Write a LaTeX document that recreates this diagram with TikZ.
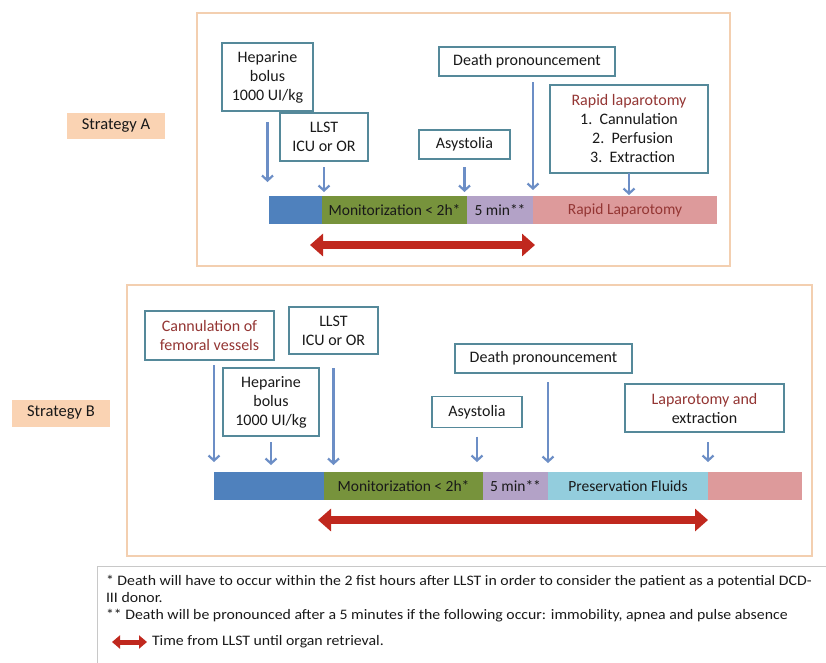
\documentclass[tikz,border=0pt]{standalone}
\usepackage{fontspec}
\setmainfont{Carlito}
\newfontfamily\notefont{Carlito}[FakeStretch=1.09]
\usepackage{tikz}
\usetikzlibrary{positioning, arrows.meta}

\definecolor{boxline}{HTML}{55899A}
\definecolor{frameline}{HTML}{F3CFB0}
\definecolor{tagfill}{HTML}{FAD3B3}
\definecolor{barblue}{HTML}{4F81BD}
\definecolor{bargreen}{HTML}{77933C}
\definecolor{barpurple}{HTML}{B3A2C7}
\definecolor{barpink}{HTML}{DD9A9B}
\definecolor{barfluid}{HTML}{93CDDD}
\definecolor{pinblue}{HTML}{6C8EC6}
\definecolor{spanred}{HTML}{C0281E}
\definecolor{darkred}{HTML}{943634}
\definecolor{notegray}{HTML}{C8C8C8}

\begin{document}
\begin{tikzpicture}[x=1pt, y=-1pt,
    every node/.style={inner sep=2pt, outer sep=0pt, text=black!90, font=\fontsize{16}{19}\selectfont},
    box/.style={draw=boxline, line width=1.1pt, fill=white, align=center},
    seg/.style={minimum height=28pt, anchor=west, font=\fontsize{15.5}{18}\selectfont},
    tag/.style={fill=tagfill, minimum width=98pt, minimum height=26pt, font=\fontsize{16.5}{18}\selectfont},
    pin/.style={draw=pinblue, line width=2.2pt, shorten <=6pt, shorten >=4pt, -{Straight Barb[length=5pt, width=11pt]}},
    span/.style={draw=spanred, line width=8pt, {Triangle[length=13pt, width=22pt]}-{Triangle[length=13pt, width=22pt]}},
    note/.style={align=left, font=\notefont\fontsize{14.5}{17}\selectfont}]
    \useasboundingbox (0,0) rectangle (826,662);

    % Frames
    \draw[frameline, line width=2pt, fill=white] (197,13) rectangle (730,266);
    \draw[frameline, line width=2pt, fill=white] (127,285) rectangle (812,556);
    \draw[notegray, line width=1pt] (840,566) -- (97,566) -- (97,680);

    % Strategy A
    \node[tag] (tagA) at (116,126) {Strategy A};

    \node[seg, fill=barblue, minimum width=53pt] (blueA) at (269,210) {};
    \node[seg, fill=bargreen, minimum width=145pt, right=0pt of blueA] (greenA) {Monitorization < 2h*};
    \node[seg, fill=barpurple, minimum width=66pt, right=0pt of greenA] (purpleA) {5 min**};
    \node[seg, fill=barpink, minimum width=184pt, right=0pt of purpleA, text=darkred] (pinkA) {Rapid Laparotomy};

    \node[box, minimum width=91pt, minimum height=68pt] (hepA) at (267.5,77) {Heparine\\bolus\\1000 UI/kg};
    \node[box, minimum width=88pt, minimum height=48pt] (llstA) at (324,137) {LLST\\ICU or OR};
    \node[box, minimum width=91pt, minimum height=29pt] (asysA) at (464.5,144.5) {Asystolia};
    \node[box, minimum width=176pt, minimum height=29pt] (deathA) at (527,61.5) {Death pronouncement};
    \node[box, minimum width=158pt, minimum height=88pt] (rapidA) at (629,129)
        {\textcolor{darkred}{Rapid laparotomy}\\1.\ \ Cannulation\\\ \ 2.\ \ Perfusion\\\ \ 3.\ \ Extraction};

    \draw[pin, shorten <=11pt, shorten >=14pt] (hepA.south) -- (hepA.south |- blueA.north);
    \draw[pin] (llstA.south) -- (llstA.south |- greenA.north);
    \draw[pin, shorten <=8pt] (asysA.south) -- (asysA.south |- greenA.north);
    \draw[pin, shorten >=6pt] (deathA.south -| pinkA.west) -- (pinkA.north west);
    \draw[pin, shorten <=0pt, shorten >=1pt] (rapidA.south) -- (rapidA.south |- pinkA.north);

    \coordinate (spanAl) at (310,245);
    \coordinate (spanAr) at (535,245);
    \draw[span] (spanAl) -- (spanAr);

    % Strategy B
    \node[tag, minimum height=27pt] (tagB) at (61,413) {Strategy B};

    \node[seg, fill=barblue, minimum width=110pt] (blueB) at (214,486) {};
    \node[seg, fill=bargreen, minimum width=159pt, right=0pt of blueB] (greenB) {Monitorization < 2h*};
    \node[seg, fill=barpurple, minimum width=65pt, right=0pt of greenB] (purpleB) {5 min**};
    \node[seg, fill=barfluid, minimum width=160pt, right=0pt of purpleB] (fluidB) {Preservation Fluids};
    \node[seg, fill=barpink, minimum width=94pt, right=0pt of fluidB] (pinkB) {};

    \node[box, minimum width=129pt, minimum height=49pt, text=darkred] (cannB) at (209.5,335.5) {Cannulation of\\femoral vessels};
    \node[box, minimum width=89pt, minimum height=47pt] (llstB) at (333.5,330.5) {LLST\\ICU or OR};
    \node[box, minimum width=96pt, minimum height=68pt] (hepB) at (271,402) {Heparine\\bolus\\1000 UI/kg};
    \node[box, minimum width=90pt, minimum height=31pt] (asysB) at (477,412) {Asystolia};
    \node[box, minimum width=177pt, minimum height=29pt] (deathB) at (543.5,358.5) {Death pronouncement};
    \node[box, minimum width=159pt, minimum height=48pt] (lapB) at (704.5,408) {\textcolor{darkred}{Laparotomy and}\\extraction};

    \draw[pin, shorten <=5pt, shorten >=10pt] (cannB.south -| blueB.west) -- (blueB.north west);
    \draw[pin, shorten >=7pt] (hepB.south) -- (hepB.south |- blueB.north);
    \draw[pin, shorten <=14pt, shorten >=7pt] (llstB.south) -- (llstB.south |- greenB.north);
    \draw[pin, shorten <=9pt, shorten >=10pt] (asysB.south) -- (asysB.south |- greenB.north);
    \draw[pin, shorten <=9pt, shorten >=9pt] (deathB.south -| fluidB.west) -- (fluidB.north west);
    \draw[pin, shorten <=10pt, shorten >=10pt] (lapB.south -| pinkB.west) -- (pinkB.north west);

    \coordinate (spanBl) at (318,520);
    \coordinate (spanBr) at (708,520);
    \draw[span] (spanBl) -- (spanBr);

    % Notes
    \node[note, anchor=north west] (notes) at (104,573)
        {* Death will have to occur within the 2 fist hours after LLST in order to consider the patient as a potential DCD-\\
         III donor.\\
         ** Death will be pronounced after a 5 minutes if the following occur: immobility, apnea and pulse absence};
    \node[note, anchor=west] (legtext) at (150,642) {Time from LLST until organ retrieval.};
    \coordinate (legtail) at (112,642);
    \draw[draw=spanred, line width=5pt, {Triangle[length=8pt, width=13pt]}-{Triangle[length=8pt, width=13pt]}, shorten >=3pt] (legtail) -- (legtext.west);
\end{tikzpicture}
\end{document}
